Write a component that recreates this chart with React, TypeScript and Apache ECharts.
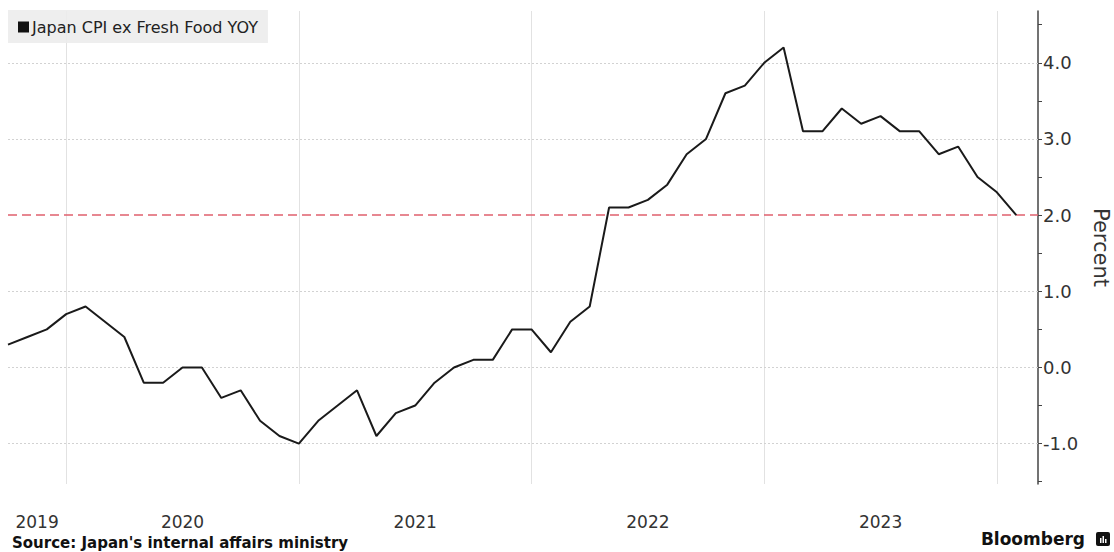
import React, { useEffect, useRef } from "react";
import * as echarts from "echarts";

// Monthly values, Sep 2019 .. Jan 2024 (Japan CPI ex fresh food, YoY %)
const startMonthOffset = -3; // Sep 2019 plotted 3 months before Jan 1 2020
const cpi2019 = [0.3, 0.4, 0.5, 0.7]; // Sep-Dec
const cpi2020 = [0.8, 0.6, 0.4, -0.2, -0.2, 0.0, 0.0, -0.4, -0.3, -0.7, -0.9, -1.0];
const cpi2021 = [-0.7, -0.5, -0.3, -0.9, -0.6, -0.5, -0.2, 0.0, 0.1, 0.1, 0.5, 0.5];
const cpi2022 = [0.2, 0.6, 0.8, 2.1, 2.1, 2.2, 2.4, 2.8, 3.0, 3.6, 3.7, 4.0];
const cpi2023 = [4.2, 3.1, 3.1, 3.4, 3.2, 3.3, 3.1, 3.1, 2.8, 2.9, 2.5, 2.3];
const cpi2024 = [2.0];

const yearLabels = ["2019", "2020", "2021", "2022", "2023"];
const yearLabelPositions = [-1.5, 6, 18, 30, 42];
const yearBoundaries = [0, 12, 24, 36, 48];
const yTickLabels = [-1, 0, 1, 2, 3, 4];
const yMinorTicks = [-1.5, -1, -0.5, 0, 0.5, 1, 1.5, 2, 2.5, 3, 3.5, 4, 4.5];
const target = 2.0;

const seriesName = "Japan CPI ex Fresh Food YOY";

export default function App() {
  const ref = useRef<HTMLDivElement>(null);
  useEffect(() => {
    if (!ref.current) return;
    const chart = echarts.init(ref.current, undefined, { renderer: "svg" });
    const values = [...cpi2019, ...cpi2020, ...cpi2021, ...cpi2022, ...cpi2023, ...cpi2024];
    const data = values.map((v, i) => [i + startMonthOffset, v]);
    const font = "DejaVu Sans";
    const markData: any[] = [];
    yearBoundaries.forEach((x) =>
      markData.push({ xAxis: x, lineStyle: { color: "#e2e2e2", width: 1, type: "solid" } })
    );
    yTickLabels.forEach((y) => {
      if (y !== target)
        markData.push({ yAxis: y, lineStyle: { color: "#d2d2d2", width: 1, type: [2, 2] } });
    });
    markData.push({ yAxis: target, lineStyle: { color: "#e0606e", width: 1.5, type: [9, 5] } });

    chart.setOption({
      animation: false,
      backgroundColor: "#ffffff",
      textStyle: { fontFamily: font },
      grid: {
        left: 8,
        right: 76,
        top: 11,
        bottom: 68,
        containLabel: false,
        outerBoundsMode: "none",
      },
      legend: {
        show: true,
        left: 8,
        top: 10,
        padding: [9, 10, 8, 10],
        backgroundColor: "rgba(236,236,236,0.9)",
        icon: "rect",
        itemWidth: 11,
        itemHeight: 11,
        itemGap: 5,
        textStyle: { fontFamily: font, fontSize: 16, color: "#222", padding: [0, 0, 0, -2] },
        data: [seriesName],
      },
      xAxis: {
        type: "value",
        min: -3,
        max: 50.12,
        axisLine: { show: false },
        axisTick: { show: false },
        splitLine: { show: false },
        axisLabel: {
          customValues: yearLabelPositions,
          formatter: (v: number) => {
            const idx = yearLabelPositions.indexOf(v);
            return idx >= 0 ? yearLabels[idx] : "";
          },
          fontSize: 17,
          color: "#333",
          margin: 29,
          fontFamily: font,
        },
      },
      yAxis: {
        type: "value",
        position: "right",
        min: -1.53,
        max: 4.68,
        name: "Percent",
        nameLocation: "middle",
        nameRotate: -90,
        nameGap: 52,
        nameTextStyle: { fontSize: 21, color: "#333", fontFamily: font },
        axisLine: { show: true, onZero: false, lineStyle: { color: "#444", width: 1.5 } },
        axisTick: {
          show: true,
          customValues: yMinorTicks,
          length: 4,
          lineStyle: { color: "#444", width: 1 },
        },
        splitLine: { show: false },
        axisLabel: {
          customValues: yTickLabels,
          formatter: (v: number) => v.toFixed(1),
          fontSize: 18,
          color: "#333",
          margin: 5,
          fontFamily: font,
        },
      },
      series: [
        {
          name: seriesName,
          type: "line",
          data,
          showSymbol: false,
          symbol: "none",
          color: "#111",
          lineStyle: { color: "#1a1a1a", width: 2 },
          z: 5,
          markLine: {
            silent: true,
            symbol: "none",
            label: { show: false },
            data: markData,
            z: 1,
          },
        },
      ],
      graphic: [
        {
          type: "text",
          left: 12,
          top: 535,
          style: {
            text: "Source: Japan's internal affairs ministry",
            fontFamily: font,
            fontWeight: "bold",
            fontSize: 15,
            fill: "#111",
          },
        },
        {
          type: "text",
          right: 29,
          top: 530,
          style: {
            text: "Bloomberg",
            fontFamily: font,
            fontWeight: "bold",
            fontSize: 17,
            fill: "#111",
          },
        },
        {
          type: "group",
          right: 4,
          top: 532,
          children: [
            { type: "rect", shape: { x: 0, y: 0, width: 14, height: 14, r: 2 }, style: { fill: "#111" } },
            { type: "rect", shape: { x: 4, y: 6, width: 1.5, height: 5 }, style: { fill: "#fff" } },
            { type: "rect", shape: { x: 6.5, y: 4, width: 1.5, height: 7 }, style: { fill: "#fff" } },
            { type: "rect", shape: { x: 9, y: 7, width: 1.5, height: 4 }, style: { fill: "#fff" } },
          ],
        },
      ],
    });
    return () => chart.dispose();
  }, []);
  return (
    <div
      ref={ref}
      style={{ position: "absolute", left: 0, top: 0, width: 1114, height: 552 }}
    />
  );
}
